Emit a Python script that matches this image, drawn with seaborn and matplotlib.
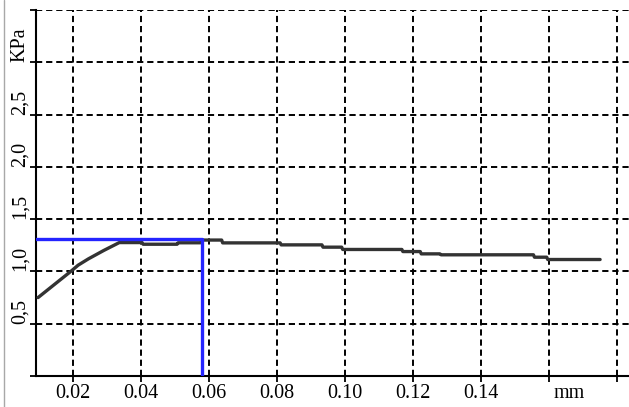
import matplotlib
matplotlib.use("Agg")
import matplotlib.pyplot as plt
import matplotlib.transforms as mtransforms
from matplotlib.lines import Line2D
import pandas as pd
import seaborn as sns

# measured curve (displacement mm, pressure KPa)
disp_mm = [0.0097, 0.0147, 0.0197, 0.0215, 0.0245, 0.0290, 0.0336, 0.0403, 0.0406, 0.0506,
           0.0509, 0.0574, 0.0582, 0.0637, 0.0640, 0.0809, 0.0812, 0.0932, 0.0935, 0.0990,
           0.0993, 0.1167, 0.1170, 0.1221, 0.1224, 0.1279, 0.1282, 0.1554, 0.1557, 0.1593,
           0.1596, 0.175]
press_kpa = [0.75, 0.88, 1.01, 1.06, 1.12, 1.20, 1.276, 1.276, 1.26, 1.26,
             1.274, 1.274, 1.30, 1.30, 1.273, 1.273, 1.254, 1.254, 1.232, 1.232,
             1.21, 1.21, 1.19, 1.19, 1.168, 1.168, 1.159, 1.159, 1.136, 1.136,
             1.114, 1.114]

# blue marker (peak level and its position)
peak_x = [0.009, 0.0579, 0.0579]
peak_y = [1.314, 1.314, 0.0]

x_ticks = [0.02, 0.04, 0.06, 0.08, 0.10, 0.12, 0.14, 0.16, 0.18]
x_labels = ["0.02", "0.04", "0.06", "0.08", "0.10", "0.12", "0.14", "", ""]
y_ticks = [0, 0.5, 1.0, 1.5, 2.0, 2.5, 3.0, 3.5]
y_labels = ["", "0,5", "1,0", "1,5", "2,0", "2,5", "KPa", ""]

sns.set_style("white")
plt.rcParams["font.family"] = ["Liberation Serif", "DejaVu Serif"]

fig = plt.figure(figsize=(6.29, 4.07), dpi=100)
ax = fig.add_axes([36 / 629, 31 / 407, 593 / 629, 366 / 407])

curve = pd.DataFrame({"mm": disp_mm, "kpa": press_kpa})
peak = pd.DataFrame({"mm": peak_x, "kpa": peak_y})

sns.lineplot(data=curve, x="mm", y="kpa", sort=False, estimator=None,
             color="#333333", linewidth=2.4, ax=ax, zorder=3)
sns.lineplot(data=peak, x="mm", y="kpa", sort=False, estimator=None,
             color="#2424ff", linewidth=2.4, ax=ax, zorder=4)

ax.set_xlim(0.0091, 0.1835)
ax.set_ylim(0, 3.5)
ax.set_xticks(x_ticks)
ax.set_xticklabels(x_labels)
ax.set_yticks(y_ticks)
ax.set_yticklabels(y_labels, rotation=90, va="bottom")
ax.set_xlabel("")
ax.set_ylabel("")

# labels on the y axis sit just above their ticks
shift = mtransforms.ScaledTranslation(0, -3 / 100, fig.dpi_scale_trans)
for lab in ax.get_yticklabels():
    lab.set_transform(lab.get_transform() + shift)

ax.grid(True, color="black", linestyle=(0, (3.2, 2.0)), linewidth=1.4)
for s in ["top", "right"]:
    ax.spines[s].set_visible(False)
for s in ["left", "bottom"]:
    ax.spines[s].set_color("black")
    ax.spines[s].set_linewidth(1.5)

ax.tick_params(axis="both", direction="out", length=4, width=1.3,
               colors="black", labelsize=14.5, left=True, bottom=True)
ax.tick_params(axis="y", pad=0.5)
ax.tick_params(axis="x", pad=2)

ax.text(0.1614, -0.021, "mm", transform=ax.get_xaxis_transform(),
        ha="left", va="top", fontsize=14.5, color="black")

fig.add_artist(Line2D([4 / 629, 4 / 629], [0, 1], color="#a8a8a8", linewidth=1.0))

fig.savefig("out.png", dpi=100)
